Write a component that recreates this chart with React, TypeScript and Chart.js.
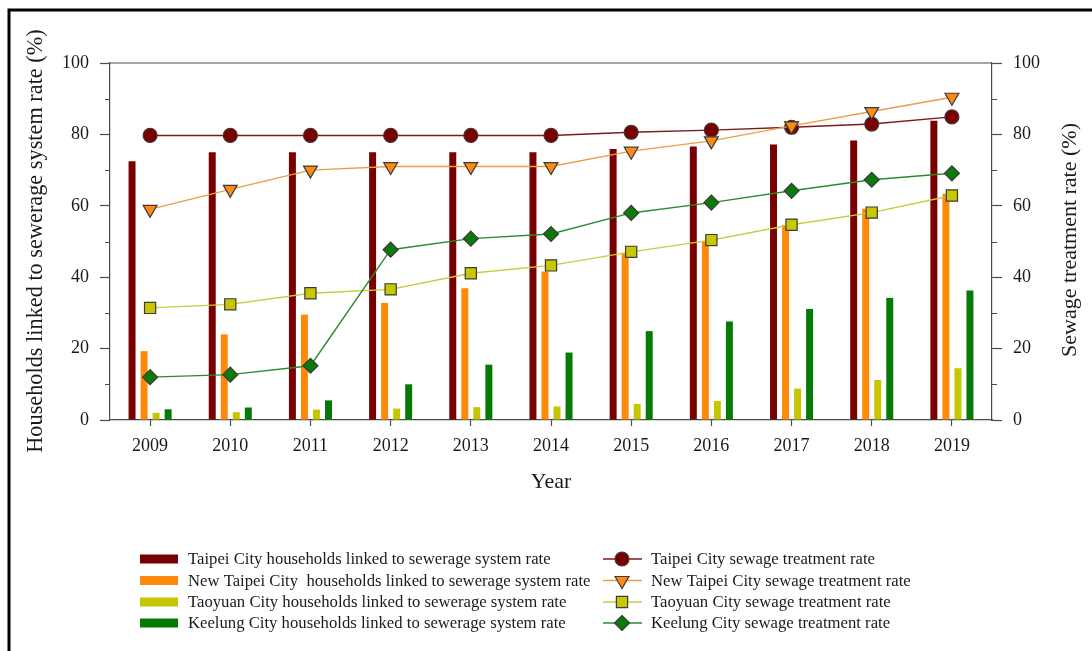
import React, { useEffect, useRef } from 'react';
import { Chart, registerables } from 'chart.js';

Chart.register(...registerables);

const years = ['2009', '2010', '2011', '2012', '2013', '2014', '2015', '2016', '2017', '2018', '2019'];

const taipeiLinked = [72.5, 75.0, 75.0, 75.0, 75.0, 75.0, 75.9, 76.6, 77.2, 78.3, 83.8];
const newTaipeiLinked = [19.3, 24.0, 29.5, 32.8, 36.9, 41.6, 46.8, 50.1, 54.6, 59.2, 63.4];
const taoyuanLinked = [2.0, 2.2, 2.9, 3.2, 3.6, 3.8, 4.5, 5.3, 8.8, 11.2, 14.5];
const keelungLinked = [3.0, 3.5, 5.5, 10.0, 15.5, 18.9, 24.9, 27.6, 31.1, 34.2, 36.3];

const taipeiTreat = [79.7, 79.7, 79.7, 79.7, 79.7, 79.7, 80.6, 81.2, 82.0, 82.9, 84.9];
const newTaipeiTreat = [59.0, 64.6, 70.0, 71.0, 71.0, 71.0, 75.3, 78.2, 82.4, 86.4, 90.4];
const taoyuanTreat = [31.4, 32.4, 35.5, 36.6, 41.1, 43.3, 47.1, 50.4, 54.7, 58.1, 62.9];
const keelungTreat = [12.0, 12.7, 15.2, 47.7, 50.8, 52.1, 58.0, 60.9, 64.2, 67.3, 69.1];

const barLabels = [
  'Taipei City households linked to sewerage system rate',
  'New Taipei City  households linked to sewerage system rate',
  'Taoyuan City households linked to sewerage system rate',
  'Keelung City households linked to sewerage system rate',
];
const lineLabels = [
  'Taipei City sewage treatment rate',
  'New Taipei City sewage treatment rate',
  'Taoyuan City sewage treatment rate',
  'Keelung City sewage treatment rate',
];

const leftTitle = 'Households linked to sewerage system rate (%)';
const rightTitle = 'Sewage treatment rate (%)';
const xTitle = 'Year';

const FONT = "'Liberation Serif', 'Times New Roman', serif";
const AXIS = '#4a4a4a';
const TEXT = '#1a1a1a';
const MARK_BORDER = '#3a3a3a';

const barColors = ['#780000', '#FF8A0A', '#C6C600', '#057A05'];
const lineColors = ['#7A1A1A', '#E8A048', '#CACA40', '#2E8A2E'];
const markerFills = ['#7A0000', '#FF8A14', '#C8C800', '#0A7A0A'];
const markerShapes = ['circle', 'downTriangle', 'square', 'diamond'];

function drawMarker(ctx: CanvasRenderingContext2D, shape: string, x: number, y: number, fill: string) {
  ctx.save();
  ctx.beginPath();
  if (shape === 'circle') {
    ctx.arc(x, y, 7, 0, Math.PI * 2);
  } else if (shape === 'downTriangle') {
    const r = 8;
    for (let i = 0; i < 3; i++) {
      const a = Math.PI + (i * 2 * Math.PI) / 3;
      const px = x + Math.sin(a) * r;
      const py = y - Math.cos(a) * r;
      if (i === 0) ctx.moveTo(px, py);
      else ctx.lineTo(px, py);
    }
    ctx.closePath();
  } else if (shape === 'square') {
    ctx.rect(x - 5.6, y - 5.6, 11.2, 11.2);
  } else {
    const r = 7.5;
    ctx.moveTo(x, y - r);
    ctx.lineTo(x + r, y);
    ctx.lineTo(x, y + r);
    ctx.lineTo(x - r, y);
    ctx.closePath();
  }
  ctx.fillStyle = fill;
  ctx.fill();
  ctx.lineWidth = 1.2;
  ctx.strokeStyle = MARK_BORDER;
  ctx.stroke();
  ctx.restore();
}

const decorPlugin = {
  id: 'decor',
  afterDraw(chart: any) {
    const ctx: CanvasRenderingContext2D = chart.ctx;
    const { left, right, top } = chart.chartArea;
    ctx.save();
    // top frame line
    ctx.strokeStyle = AXIS;
    ctx.lineWidth = 1.2;
    ctx.beginPath();
    ctx.moveTo(left, top);
    ctx.lineTo(right, top);
    ctx.stroke();
    // minor ticks
    const ys = chart.scales.y;
    [10, 30, 50, 70, 90].forEach((v) => {
      const py = Math.round(ys.getPixelForValue(v)) + 0.5;
      ctx.beginPath();
      ctx.moveTo(left - 5, py);
      ctx.lineTo(left, py);
      ctx.moveTo(right, py);
      ctx.lineTo(right + 5, py);
      ctx.stroke();
    });

    // axis titles
    ctx.fillStyle = TEXT;
    ctx.textAlign = 'center';
    ctx.textBaseline = 'middle';
    ctx.font = `22.3px ${FONT}`;
    ctx.save();
    ctx.translate(36, 241);
    ctx.rotate(-Math.PI / 2);
    ctx.fillText(leftTitle, 0, 0);
    ctx.restore();
    ctx.font = `22px ${FONT}`;
    ctx.save();
    ctx.translate(1070, 240);
    ctx.rotate(-Math.PI / 2);
    ctx.fillText(rightTitle, 0, 0);
    ctx.restore();
    ctx.font = `22px ${FONT}`;
    ctx.fillText(xTitle, (left + right) / 2, 482);

    // legend
    const rowsY = [559, 580.5, 602, 623];
    ctx.font = `16.7px ${FONT}`;
    ctx.textAlign = 'left';
    ctx.textBaseline = 'middle';
    barLabels.forEach((lab, i) => {
      const y = rowsY[i];
      ctx.fillStyle = barColors[i];
      ctx.fillRect(140, y - 4.5, 38, 9);
      ctx.fillStyle = TEXT;
      ctx.fillText(lab, 188, y + 1);
    });
    lineLabels.forEach((lab, i) => {
      const y = rowsY[i];
      ctx.strokeStyle = lineColors[i];
      ctx.lineWidth = 1.5;
      ctx.beginPath();
      ctx.moveTo(603, y);
      ctx.lineTo(642, y);
      ctx.stroke();
      drawMarker(ctx, markerShapes[i], 622, y, markerFills[i]);
      ctx.fillStyle = TEXT;
      ctx.fillText(lab, 651, y + 1);
    });

    // outer frame
    ctx.strokeStyle = '#000';
    ctx.lineWidth = 3;
    ctx.beginPath();
    ctx.moveTo(9, 700);
    ctx.lineTo(9, 10);
    ctx.lineTo(1200, 10);
    ctx.stroke();
    ctx.restore();
  },
};

export default function App() {
  const ref = useRef<HTMLCanvasElement>(null);

  useEffect(() => {
    if (!ref.current) return;
    const tickFont = { family: FONT, size: 18 };
    const lineData = [taipeiTreat, newTaipeiTreat, taoyuanTreat, keelungTreat];
    const barData = [taipeiLinked, newTaipeiLinked, taoyuanLinked, keelungLinked];
    const ptStyles = ['circle', 'triangle', 'rect', 'rectRot'];
    const ptRadius = [7, 8, 7.9, 7.5];
    const ptRot = [0, 180, 0, 0];

    const datasets: any[] = [];
    lineData.forEach((d, i) => {
      datasets.push({
        type: 'line',
        label: lineLabels[i],
        data: d,
        yAxisID: 'y1',
        borderColor: lineColors[i],
        borderWidth: 1.4,
        backgroundColor: markerFills[i],
        pointStyle: ptStyles[i],
        pointRadius: ptRadius[i],
        pointRotation: ptRot[i],
        pointBackgroundColor: markerFills[i],
        pointBorderColor: MARK_BORDER,
        pointBorderWidth: 1.2,
        tension: 0,
        fill: false,
        order: 1 + (3 - i),
      });
    });
    barData.forEach((d, i) => {
      datasets.push({
        type: 'bar',
        label: barLabels[i],
        data: d,
        yAxisID: 'y',
        backgroundColor: barColors[i],
        borderWidth: 0,
        categoryPercentage: 0.6,
        barPercentage: 0.58,
        order: 10,
      });
    });

    const yCommon = (pos: 'left' | 'right', w: number) => ({
      type: 'linear',
      position: pos,
      min: 0,
      max: 100,
      ticks: {
        stepSize: 10,
        autoSkip: false,
        font: tickFont,
        color: TEXT,
        padding: 11,
        callback: (v: any) => (Number(v) % 20 === 0 ? String(v) : ''),
      },
      grid: {
        drawOnChartArea: false,
        tickLength: 10,
        tickWidth: 1.2,
        tickColor: (c: any) => (c.tick && Number(c.tick.value) % 20 === 0 ? AXIS : 'rgba(0,0,0,0)'),
      },
      border: { display: true, color: AXIS, width: 1.2 },
      afterFit: (s: any) => {
        s.width = w;
      },
    });

    const chart = new Chart(ref.current, {
      type: 'bar',
      data: { labels: years, datasets },
      options: {
        responsive: false,
        animation: false,
        layout: { padding: { top: 63, left: 0, right: 0, bottom: 0 } },
        plugins: {
          legend: { display: false },
          tooltip: { enabled: false },
        },
        scales: {
          x: {
            grid: {
              offset: false,
              drawOnChartArea: false,
              tickLength: 6,
              tickWidth: 1.2,
              tickColor: AXIS,
            },
            border: { display: true, color: AXIS, width: 1.2 },
            ticks: { font: tickFont, color: TEXT, padding: 9, maxRotation: 0 },
            afterFit: (s: any) => {
              s.height = 231;
            },
          },
          y: yCommon('left', 110) as any,
          y1: yCommon('right', 100) as any,
        },
      },
      plugins: [decorPlugin],
    } as any);
    return () => chart.destroy();
  }, []);

  return (
    <div style={{ position: 'fixed', left: 0, top: 0, width: 1092, height: 651, background: '#fff' }}>
      <canvas ref={ref} width={1092} height={651} style={{ display: 'block' }} />
    </div>
  );
}
